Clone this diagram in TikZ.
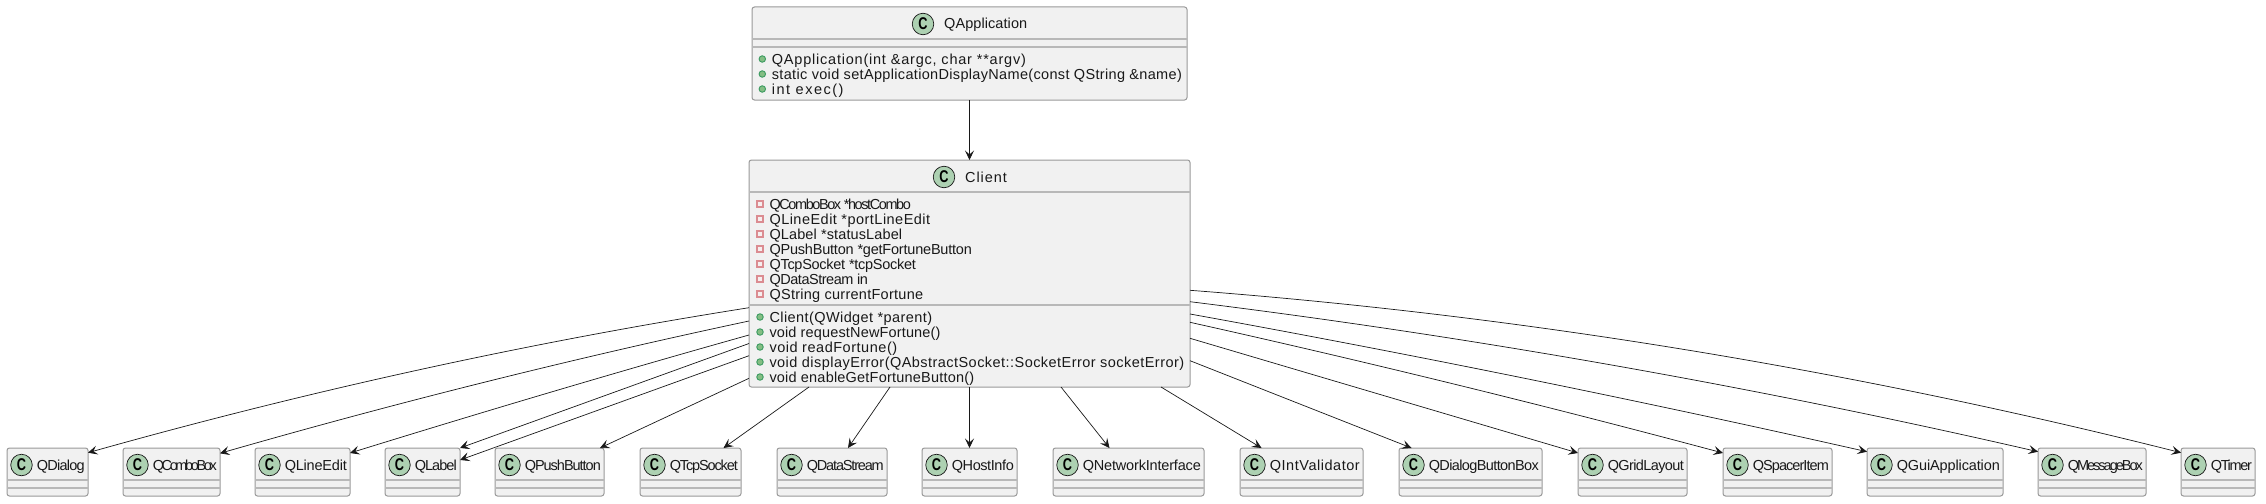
\documentclass[tikz,border=0pt]{standalone}
\usepackage{fontspec}
\usepackage{graphicx}
\setmainfont{Liberation Sans}
\usetikzlibrary{arrows.meta}
\definecolor{boxfill}{HTML}{F1F1F1}
\definecolor{boxline}{HTML}{999999}
\definecolor{sepline}{HTML}{B8B8B8}
\definecolor{spotfill}{HTML}{ADD1B2}
\definecolor{inkline}{HTML}{181818}
\definecolor{pubfill}{HTML}{84BE84}
\definecolor{publine}{HTML}{3A9A60}
\definecolor{privfill}{HTML}{F6EEEE}
\definecolor{privline}{HTML}{DB8C91}
\tikzset{
	classnode/.style={draw=boxline,fill=boxfill,line width=1pt,rounded corners=2.5pt,inner sep=0pt,outer sep=0pt},
	sepmark/.style={draw=sepline,line width=1.3pt},
	spot/.style={circle,draw=inkline,fill=spotfill,line width=0.7pt,minimum size=21.5pt,inner sep=0pt,font=\fontsize{17}{17}\selectfont\bfseries},
	title/.style={anchor=base west,inner sep=0pt,font=\fontsize{14.5}{14.5}\selectfont,text=black!90},
	member/.style={anchor=base west,inner sep=0pt,font=\fontsize{14.5}{14.5}\selectfont,text=black!90},
	pubmark/.style={circle,draw=publine,fill=pubfill,line width=0.9pt,minimum size=6.5pt,inner sep=0pt},
	privmark/.style={rectangle,draw=privline,fill=privfill,line width=1.6pt,minimum size=6.5pt,inner sep=0pt},
	arr/.style={draw=inkline,line width=0.7pt,-{Stealth[length=9.5pt,width=9pt,inset=4pt]}},
}
\newsavebox{\fitbox}
\newlength{\fitplain}
\newlength{\fitwide}
% tracking that brings a text to the given width
\newcommand{\fitw}[2]{%
	\sbox{\fitbox}{#2}\setlength{\fitplain}{\wd\fitbox}%
	\sbox{\fitbox}{\addfontfeature{LetterSpace=10}#2}\setlength{\fitwide}{\wd\fitbox}%
	\pgfmathsetmacro{\fitspace}{10*(#1-\fitplain)/(\fitwide-\fitplain)}%
	\addfontfeature{LetterSpace=\fitspace}#2}
% small box in the bottom row
\newcommand{\classbox}[3]{
	\node[classnode,minimum width={#3-#2},minimum height=48] (#1) at ({(#2+#3)/2},472) {};
	\draw[sepmark] ([yshift=-8pt]#1.west)--([yshift=-8pt]#1.east);
	\draw[sepmark] ([yshift=-16pt]#1.west)--([yshift=-16pt]#1.east);
	\node[spot] (#1Spot) at ({#2+14.5},465) {\scalebox{0.75}[1]{C}};
	\node[title] (#1Name) at ({#2+29.6},470) {\fitw{\the\numexpr#3-#2-33\relax}{#1}};
}
\begin{document}
\begin{tikzpicture}[x=1pt,y=-1pt]
	\useasboundingbox (0,0) rectangle (2266,503);
	%QApplication
	\node[classnode,minimum width=435,minimum height=93] (QApplication) at (969.5,53.5) {};
	\draw[sepmark] ([yshift=14.5pt]QApplication.west)--([yshift=14.5pt]QApplication.east);
	\draw[sepmark] ([yshift=6.5pt]QApplication.west)--([yshift=6.5pt]QApplication.east);
	\node[spot] (QApplicationSpot) at (923,24) {\scalebox{0.75}[1]{C}};
	\node[title] (QApplicationName) at (944,29) {\fitw{83}{QApplication}};
	\node[pubmark] (A1Mark) at (762.3,59) {};
	\node[pubmark] (A2Mark) at (762.3,74) {};
	\node[pubmark] (A3Mark) at (762.3,89) {};
	\node[member] (A1) at (771.7,64) {\fitw{254}{QApplication(int \&argc, char **argv)}};
	\node[member] (A2) at (771.7,79) {\fitw{410}{static void setApplicationDisplayName(const QString \&name)}};
	\node[member] (A3) at (771.7,94) {\fitw{71.6}{int exec()}};
	%Client
	\node[classnode,minimum width=441,minimum height=227] (Client) at (969.5,273.5) {};
	\draw[sepmark] ([yshift=81.5pt]Client.west)--([yshift=81.5pt]Client.east);
	\draw[sepmark] ([yshift=-31.5pt]Client.west)--([yshift=-31.5pt]Client.east);
	\node[spot] (ClientSpot) at (944,177) {\scalebox{0.75}[1]{C}};
	\node[title] (ClientName) at (965,182) {\fitw{41.7}{Client}};
	\node[privmark] (F1Mark) at (760,204) {};
	\node[privmark] (F2Mark) at (760,219) {};
	\node[privmark] (F3Mark) at (760,234) {};
	\node[privmark] (F4Mark) at (760,249) {};
	\node[privmark] (F5Mark) at (760,264) {};
	\node[privmark] (F6Mark) at (760,279) {};
	\node[privmark] (F7Mark) at (760,294) {};
	\node[member] (F1) at (769.3,209) {\fitw{141.4}{QComboBox *hostCombo}};
	\node[member] (F2) at (769.3,224) {\fitw{160.7}{QLineEdit *portLineEdit}};
	\node[member] (F3) at (769.3,239) {\fitw{132.7}{QLabel *statusLabel}};
	\node[member] (F4) at (769.3,254) {\fitw{202.4}{QPushButton *getFortuneButton}};
	\node[member] (F5) at (769.3,269) {\fitw{146.4}{QTcpSocket *tcpSocket}};
	\node[member] (F6) at (769.3,284) {\fitw{98.4}{QDataStream in}};
	\node[member] (F7) at (769.3,299) {\fitw{153.7}{QString currentFortune}};
	\node[pubmark] (M1Mark) at (760,317) {};
	\node[pubmark] (M2Mark) at (760,332) {};
	\node[pubmark] (M3Mark) at (760,347) {};
	\node[pubmark] (M4Mark) at (760,362) {};
	\node[pubmark] (M5Mark) at (760,377) {};
	\node[member] (M1) at (769.3,322) {\fitw{162.7}{Client(QWidget *parent)}};
	\node[member] (M2) at (769.3,337) {\fitw{171}{void requestNewFortune()}};
	\node[member] (M3) at (769.3,352) {\fitw{127.7}{void readFortune()}};
	\node[member] (M4) at (769.3,367) {\fitw{414.7}{void displayError(QAbstractSocket::SocketError socketError)}};
	\node[member] (M5) at (769.3,382) {\fitw{204.7}{void enableGetFortuneButton()}};
	%bottom row
	\classbox{QDialog}{7}{88}
	\classbox{QComboBox}{123}{220}
	\classbox{QLineEdit}{255}{350}
	\classbox{QLabel}{385}{460}
	\classbox{QPushButton}{495}{604}
	\classbox{QTcpSocket}{640}{741}
	\classbox{QDataStream}{777}{887}
	\classbox{QHostInfo}{922}{1017}
	\classbox{QNetworkInterface}{1053}{1204}
	\classbox{QIntValidator}{1240}{1363}
	\classbox{QDialogButtonBox}{1399}{1542}
	\classbox{QGridLayout}{1578}{1687}
	\classbox{QSpacerItem}{1723}{1832}
	\classbox{QGuiApplication}{1867}{2003}
	\classbox{QMessageBox}{2038}{2146}
	\classbox{QTimer}{2181}{2255}
	%arrows
	\draw[arr] (QApplication)--(Client);
	\draw[arr] ([yshift=-34.2pt]Client.west) .. controls (528.6,342.4) and (308.2,390.8) .. ([yshift=19.3pt]QDialog.east);
	\draw[arr] ([yshift=-47.5pt]Client.west) .. controls (572.5,358.6) and (396,402.7) .. ([yshift=18.7pt]QComboBox.east);
	\draw[arr] ([yshift=-61.5pt]Client.west) .. controls (616,372.3) and (483.5,411.7) .. ([yshift=19pt]QLineEdit.east);
	\draw[arr] ([yshift=-70pt]Client.west)--(QLabel.north east);
	\draw[arr] ([yshift=-82.2pt]Client.west)--([yshift=12pt]QLabel.east);
	\draw[arr] ([yshift=-104.8pt]Client.west)--([xshift=50.5pt]QPushButton.north);
	\draw[arr] ([xshift=-160.5pt]Client.south)--([xshift=33pt]QTcpSocket.north);
	\draw[arr] ([xshift=-79.5pt]Client.south)--([xshift=16pt]QDataStream.north);
	\draw[arr] (Client.south)--(QHostInfo.north);
	\draw[arr] ([xshift=91.5pt]Client.south)--([xshift=-19pt]QNetworkInterface.north);
	\draw[arr] ([xshift=191.5pt]Client.south)--([xshift=-40pt]QIntValidator.north);
	\draw[arr] ([yshift=-87.2pt]Client.east)--([xshift=-59pt]QDialogButtonBox.north);
	\draw[arr] ([yshift=-64.8pt]Client.east)--([yshift=19pt]QGridLayout.west);
	\draw[arr] ([yshift=-48.8pt]Client.east) .. controls (1367.6,361.9) and (1545.1,405.4) .. ([yshift=19pt]QSpacerItem.west);
	\draw[arr] ([yshift=-40.5pt]Client.east) .. controls (1415.7,354.9) and (1641.3,400.8) .. ([yshift=20.3pt]QGuiApplication.west);
	\draw[arr] ([yshift=-28.2pt]Client.east) .. controls (1472.6,336.7) and (1755.1,386.7) .. ([yshift=20.3pt]QMessageBox.west);
	\draw[arr] ([yshift=-16.8pt]Client.east) .. controls (1520.3,315.4) and (1850.7,369.6) .. ([yshift=19.3pt]QTimer.west);
\end{tikzpicture}
\end{document}
